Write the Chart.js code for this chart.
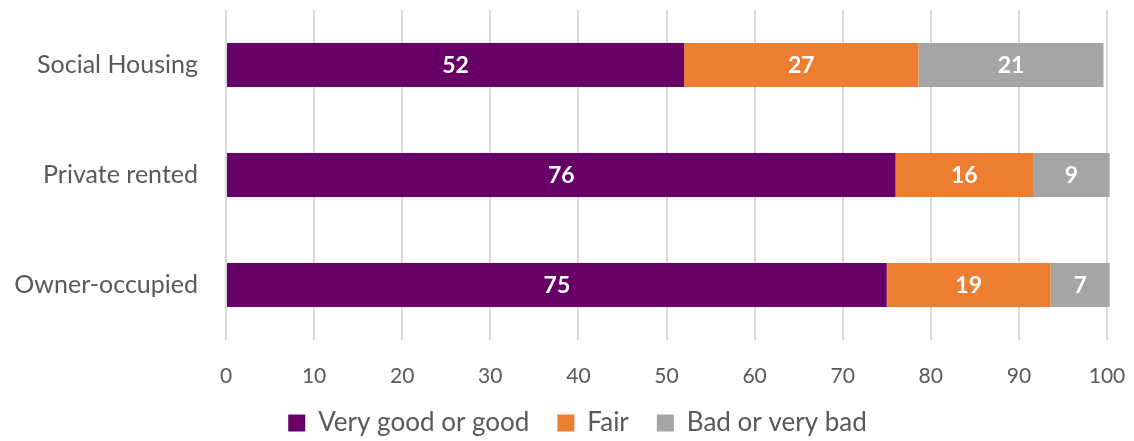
<!DOCTYPE html>
<html>
<head>
<meta charset="utf-8">
<script src="https://cdn.jsdelivr.net/npm/chart.js@4.4.1/dist/chart.umd.min.js"></script>
<style>
  html, body { margin: 0; padding: 0; background: #fff; }
  #wrap { width: 1134px; height: 441px; }
</style>
</head>
<body>
<div id="wrap"><canvas id="tenureChart"></canvas></div>

<script>
const categories = ['Social Housing', 'Private rented', 'Owner-occupied'];
const seriesNames = ['Very good or good', 'Fair', 'Bad or very bad'];
const veryGoodOrGood = [52.0, 76.0, 75.0];
const fair = [26.6, 15.6, 18.6];
const badOrVeryBad = [21.0, 8.7, 6.7];
const xTicks = [0, 10, 20, 30, 40, 50, 60, 70, 80, 90, 100];

const FONT = 'Lato, "Open Sans", sans-serif';
const TEXT_COLOR = '#595959';

// white rounded values in the middle of each segment
const barLabels = {
    id: 'barLabels',
    afterDatasetsDraw(chart) {
        const ctx = chart.ctx;
        ctx.save();
        ctx.font = 'bold 23px ' + FONT;
        ctx.fillStyle = '#ffffff';
        ctx.textAlign = 'center';
        ctx.textBaseline = 'middle';
        chart.data.datasets.forEach(function(ds, i) {
            const meta = chart.getDatasetMeta(i);
            meta.data.forEach(function(bar, j) {
                const cx = (bar.x + bar.base) / 2;
                ctx.fillText(Math.round(ds.data[j]), cx, bar.y + 1);
            });
        });
        ctx.restore();
    }
};

// wide item spacing in the legend, but only a small strip reserved for it
const legendPlace = {
    id: 'legendPlace',
    afterInit(chart) {
        const legend = chart.legend;
        const fit = legend.fit;
        legend.fit = function() {
            fit.call(this);
            this.height = 50;
        };
    },
    afterLayout(chart) {
        const legend = chart.legend;
        legend.top = 382;
        legend.bottom = 441;
        legend.left += 24;
        legend.right += 24;
    }
};

const ctx = document.getElementById('tenureChart').getContext('2d');
new Chart(ctx, {
    type: 'bar',
    data: {
        labels: categories,
        datasets: [
            { label: seriesNames[0], data: veryGoodOrGood, backgroundColor: '#660066' },
            { label: seriesNames[1], data: fair, backgroundColor: '#ED7D31' },
            { label: seriesNames[2], data: badOrVeryBad, backgroundColor: '#A5A5A5' }
        ]
    },
    options: {
        indexAxis: 'y',
        responsive: true,
        maintainAspectRatio: false,
        animation: false,
        layout: { padding: { top: 10, right: 27, left: 0, bottom: 0 } },
        datasets: {
            bar: { categoryPercentage: 1, barPercentage: 0.4, clip: false }
        },
        scales: {
            x: {
                stacked: true,
                min: 0,
                max: 100,
                afterBuildTicks: function(axis) {
                    axis.ticks = xTicks.map(function(v) { return { value: v }; });
                },
                afterFit: function(axis) { axis.height = 51; },
                grid: { color: '#D9D9D9', lineWidth: 2, drawTicks: true, tickLength: 24, tickColor: 'rgba(0,0,0,0)' },
                border: { display: false },
                ticks: {
                    padding: 0,
                    color: TEXT_COLOR,
                    font: { family: FONT, size: 21 }
                }
            },
            y: {
                stacked: true,
                afterFit: function(axis) { axis.width = 226; },
                grid: { color: 'rgba(0,0,0,0)', drawTicks: true, tickLength: 28, tickColor: 'rgba(0,0,0,0)' },
                border: { display: false },
                ticks: {
                    padding: 0,
                    color: TEXT_COLOR,
                    font: { family: FONT, size: 25, lineHeight: 0.8 }
                }
            }
        },
        plugins: {
            legend: {
                display: true,
                position: 'bottom',
                labels: {
                    boxWidth: 17,
                    boxHeight: 17,
                    padding: 28,
                    color: TEXT_COLOR,
                    font: { family: FONT, size: 26 }
                }
            },
            tooltip: { enabled: false }
        }
    },
    plugins: [barLabels, legendPlace]
});
</script>
</body>
</html>
